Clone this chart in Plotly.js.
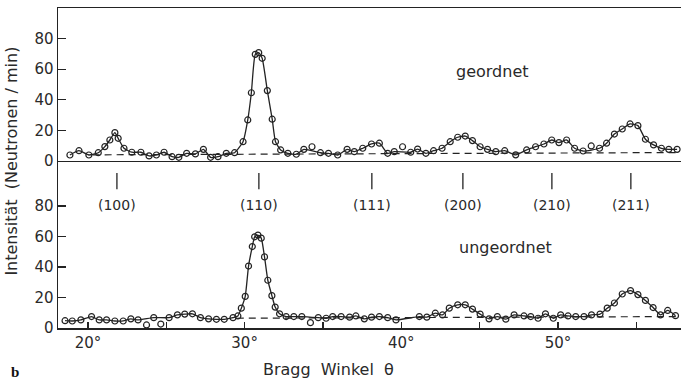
<!DOCTYPE html>
<html>
<head>
<meta charset="utf-8">
<script src="https://cdn.plot.ly/plotly-3.0.1.min.js"></script>
<style>html,body{margin:0;padding:0;background:#fff;}</style>
</head>
<body>
<div id="chart" style="width:681px;height:382px;"></div>
<script>
// ---- data ----
// upper panel: "geordnet" (ordered)
var topX = [18.85,19.43,20.06,20.66,21.08,21.4,21.72,21.93,22.3,22.8,23.38,23.9,24.37,24.86,25.37,25.8,26.3,26.86,27.37,27.83,28.3,28.83,29.36,29.9,30.2,30.43,30.68,30.9,31.12,31.45,31.76,31.97,32.3,32.76,33.3,33.78,34.3,34.84,35.35,35.94,36.54,37.0,37.54,38.1,38.6,39.13,39.55,40.08,40.6,41.04,41.57,42.06,42.6,43.12,43.6,44.08,44.54,45.03,45.5,46.03,46.6,47.3,48.0,48.57,49.1,49.6,50.06,50.55,51.06,51.6,52.12,52.65,53.1,53.6,54.1,54.6,55.1,55.58,56.1,56.6,57.07,57.6];
var topY = [3.9,6.7,3.9,5.4,9.4,13.7,18.5,14.8,8.3,5.7,5.7,3.3,3.9,5.7,2.8,2.4,5.0,4.6,7.6,2.4,2.8,5.0,5.4,12.6,26.8,44.6,69.7,70.8,67.1,46,27.3,12.6,7.2,5.0,4.4,7.6,9.3,5.4,5.0,3.9,7.6,6.1,8.3,11.1,11.6,5.0,6.1,9.3,5.7,7.8,5.0,6.7,8.3,12.6,15.5,16.3,13.3,9.3,7.6,6.1,6.7,4.0,7.2,9.3,11.1,13.7,12.0,13.7,8.3,6.5,9.8,8.3,11.6,17.6,20.9,24.2,23.1,14.2,10.5,8.3,7.6,7.6];
var topOffCurve = [34.3, 40.08, 52.12];
var topBgX = [20.3, 57.6];
var topBgY = [4.0, 5.5];

// lower panel: "ungeordnet" (disordered)
var botX = [18.54,19.0,19.55,20.23,20.72,21.19,21.72,22.25,22.74,23.2,23.74,24.2,24.65,25.18,25.71,26.18,26.67,27.18,27.7,28.2,28.7,29.26,29.57,29.79,30.04,30.25,30.49,30.64,30.85,31.06,31.27,31.48,31.74,31.95,32.23,32.65,33.14,33.65,34.2,34.7,35.2,35.62,36.16,36.7,37.1,37.64,38.1,38.6,39.13,39.66,41.15,41.63,42.17,42.63,43.06,43.6,44.08,44.54,45.03,45.6,46.13,46.67,47.2,47.83,48.26,48.73,49.2,49.7,50.17,50.64,51.13,51.66,52.14,52.68,53.14,53.6,54.1,54.63,55.1,55.58,56.07,56.54,57.0,57.5];
var botY = [4.8,4.6,5.3,7.5,5.3,5.3,4.6,4.6,6.0,5.3,2.0,6.8,2.6,6.8,8.6,9.1,9.3,6.8,6.0,5.7,5.7,6.8,7.9,13.0,20.7,40.6,53.4,59.8,60.9,58.9,46.6,31.3,21.2,13.7,9.3,7.5,7.5,7.5,3.5,6.8,6.4,7.5,7.5,7.1,7.9,6.0,7.1,7.5,6.8,5.3,7.5,7.1,9.7,8.6,13.0,15.2,15.2,12.4,9.1,6.0,7.5,5.8,8.6,7.9,7.5,6.4,9.3,6.4,8.6,7.9,7.5,7.5,8.6,9.1,13.0,16.4,22.3,24.5,21.9,18.1,13.4,8.6,11.5,8.1];
var botOffCurve = [23.74, 24.65, 34.2];
var botBgX = [29.5, 57.6];
var botBgY = [6.4, 7.5];

// reflections
var peakLabels = ['(100)','(110)','(111)','(200)','(210)','(211)'];
var peakPos = [21.85, 30.91, 38.12, 43.93, 49.61, 54.65];

// axes
var xTickVals = [20,25,30,35,40,45,50,55];
var xTickText = ['20°','','30°','','40°','','50°',''];
var yTickVals = [0,20,40,60,80];
var yTickText = ['0','20','40','60','80'];

// ---- build ----
var ink = '#232323';
function onCurve(xs, ys, off){
  var cx=[], cy=[];
  for (var i=0;i<xs.length;i++){ if (off.indexOf(xs[i])<0){cx.push(xs[i]); cy.push(ys[i]);} }
  return {x:cx, y:cy};
}
var tc = onCurve(topX, topY, topOffCurve);
var bc = onCurve(botX, botY, botOffCurve);

var mk = {symbol:'circle-open', size:6, color:ink, line:{width:1.2, color:ink}};
var traces = [
  {x:tc.x, y:tc.y, xaxis:'x2', yaxis:'y2', mode:'lines', line:{color:ink, width:1.3, shape:'spline', smoothing:0.5}},
  {x:topBgX, y:topBgY, xaxis:'x2', yaxis:'y2', mode:'lines', line:{color:ink, width:1.2, dash:'7px,5px'}},
  {x:topX, y:topY, xaxis:'x2', yaxis:'y2', mode:'markers', marker:mk},
  {x:bc.x, y:bc.y, xaxis:'x', yaxis:'y', mode:'lines', line:{color:ink, width:1.3, shape:'spline', smoothing:0.5}},
  {x:botBgX, y:botBgY, xaxis:'x', yaxis:'y', mode:'lines', line:{color:ink, width:1.2, dash:'7px,5px'}},
  {x:botX, y:botY, xaxis:'x', yaxis:'y', mode:'markers', marker:mk}
];
// short reflection marker lines
var mx=[], my=[];
peakPos.forEach(function(p){ mx.push(p,p,null); my.push(91,101.6,null); });
traces.push({x:mx, y:my, xaxis:'x', yaxis:'y', mode:'lines', line:{color:ink, width:1.3}});

function ann(o){ o.showarrow=false; o.xanchor='center'; o.yanchor='middle'; return o; }
var annotations = [];
for (var i=0;i<peakLabels.length;i++){
  annotations.push(ann({x:peakPos[i], xref:'x', y:0.384, yref:'paper', text:peakLabels[i], font:{size:14}}));
}
annotations.push(ann({x:0.698, y:0.80, xref:'paper', yref:'paper', text:'geordnet', font:{size:16}}));
annotations.push(ann({x:0.7175, y:0.253, xref:'paper', yref:'paper', text:'ungeordnet', font:{size:16}}));
annotations.push(ann({x:-0.0738, y:0.52, xref:'paper', yref:'paper', text:'Intensität  (Neutronen / min)', textangle:-90, font:{size:16}}));
annotations.push(ann({x:0.4334, y:-0.131, xref:'paper', yref:'paper', text:'Bragg  Winkel  θ', font:{size:16}}));
annotations.push(ann({x:-0.069, y:-0.1375, xref:'paper', yref:'paper', text:'<b>b</b>', font:{family:'Liberation Serif', size:15, color:'#111'}}));

var axBase = {showgrid:false, zeroline:false, showline:true, linecolor:ink, linewidth:1.5, tickcolor:ink, tickwidth:1.3};
var layout = {
  width:681, height:382,
  margin:{l:58, r:0, t:8, b:54},
  paper_bgcolor:'#fff', plot_bgcolor:'#fff',
  showlegend:false,
  font:{family:'DejaVu Sans', size:15, color:'#2a2a2a'},
  xaxis:Object.assign({}, axBase, {domain:[0,1], range:[18.09,57.85], anchor:'y', ticks:'inside', ticklen:6, tickvals:xTickVals, ticktext:xTickText}),
  yaxis:Object.assign({}, axBase, {domain:[0,0.522], range:[0,109.5], anchor:'x', ticks:'inside', ticklen:8, tickvals:yTickVals, ticktext:yTickText}),
  xaxis2:Object.assign({}, axBase, {domain:[0,1], range:[18.09,57.85], anchor:'y2', mirror:true, ticks:'', showticklabels:false}),
  yaxis2:Object.assign({}, axBase, {domain:[0.522,1], range:[0,100], anchor:'x2', ticks:'inside', ticklen:8, tickvals:yTickVals, ticktext:yTickText}),
  annotations:annotations
};
Plotly.newPlot('chart', traces, layout, {staticPlot:true, displayModeBar:false});
</script>
</body>
</html>
